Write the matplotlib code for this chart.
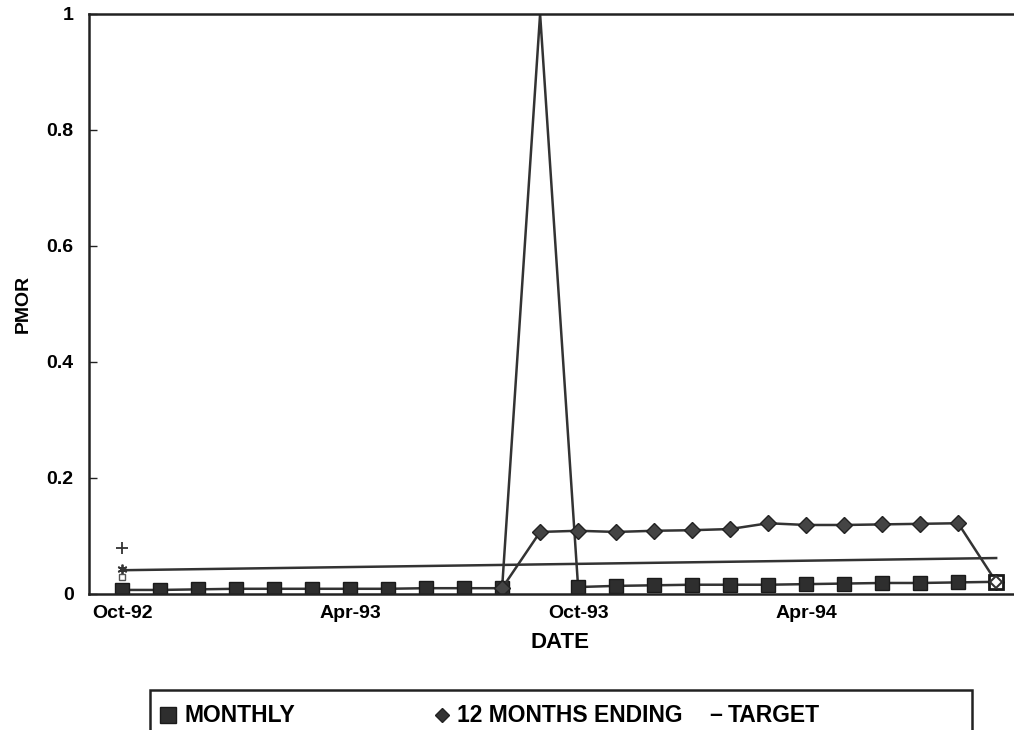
import matplotlib.pyplot as plt
from matplotlib.lines import Line2D
import numpy as np

plt.rcParams['font.family'] = ['Liberation Sans', 'DejaVu Sans']
plt.rcParams['font.weight'] = 'bold'

# values (Oct-92 .. Sep-94)
months = ['Oct-92', 'Nov-92', 'Dec-92', 'Jan-93', 'Feb-93', 'Mar-93',
          'Apr-93', 'May-93', 'Jun-93', 'Jul-93', 'Aug-93', 'Sep-93',
          'Oct-93', 'Nov-93', 'Dec-93', 'Jan-94', 'Feb-94', 'Mar-94',
          'Apr-94', 'May-94', 'Jun-94', 'Jul-94', 'Aug-94', 'Sep-94']
monthly = [0.007, 0.007, 0.008, 0.009, 0.009, 0.009, 0.009, 0.009, 0.010, 0.010,
           0.010, 1.0, 0.012, 0.014, 0.015, 0.016, 0.016, 0.016, 0.017, 0.018,
           0.019, 0.019, 0.020, 0.021]
twelve_months = [np.nan] * 10 + [0.010, 0.107, 0.109, 0.107, 0.109, 0.110, 0.112,
                                 0.122, 0.119, 0.119, 0.120, 0.121, 0.122, 0.021]
target_months = [0, 23]
target = [0.041, 0.062]
# stray single points at Oct-92
stray_plus = 0.079
stray_star = 0.043
stray_square = 0.029

x = np.arange(len(months))
ink = '#333333'

fig = plt.figure(figsize=(10.14, 7.30), dpi=100)
ax = fig.add_axes([89 / 1014, 136 / 730, 925 / 1014, 580 / 730])

ax.plot(target_months, target, color=ink, lw=1.8)
# the spike point itself shows no marker (clipped at the frame)
shown = [i for i in range(len(monthly)) if monthly[i] < 1]
ax.plot(x, monthly, color=ink, lw=1.8, marker='s', ms=10,
        mfc='#2e2e2e', mec='#1a1a1a', markevery=shown)
ax.plot(x, twelve_months, color=ink, lw=1.8, marker='D', ms=8,
        mfc='#444444', mec='#222222')
# last points drawn open
ax.plot(x[-1], monthly[-1], marker='s', ms=10, mfc='white', mec='#1a1a1a', mew=2)
ax.plot(x[-1], twelve_months[-1], marker='D', ms=6, mfc='white', mec='#333333', mew=1.5)
ax.plot(0, stray_plus, marker='+', ms=9, color=ink, mew=1.3)
ax.plot(0, stray_star, marker=(6, 2, 0), ms=7, color=ink, mew=1.3)
ax.plot(0, stray_square, marker='s', ms=5, mfc='none', mec='#555555')

ax.set_xlim(-0.87, 23.47)
ax.set_ylim(0, 1)
ax.set_yticks([0, 0.2, 0.4, 0.6, 0.8, 1])
ax.set_yticklabels(['0', '0.2', '0.4', '0.6', '0.8', '1'])
ax.set_xticks(x[::6])
ax.set_xticklabels(months[::6])
ax.tick_params(axis='y', direction='in', length=6, width=1, pad=11, labelsize=14, color='#222222')
ax.tick_params(axis='x', length=0, pad=8, labelsize=14)

for side in ['left', 'bottom', 'top']:
    ax.spines[side].set_linewidth(1.8)
    ax.spines[side].set_color('#222222')
ax.spines['right'].set_visible(False)

ax.set_ylabel('PMOR', fontsize=14, fontweight='bold', labelpad=11)
fig.text(560 / 1014, 1 - 643 / 730, 'DATE', fontsize=16, ha='center', va='center')

# legend box along the bottom edge
box = plt.Rectangle((150 / 1014, -0.02), 822 / 1014, (730 - 690) / 730 + 0.02,
                    transform=fig.transFigure, fill=False, lw=1.8, ec='#222222')
fig.patches.append(box)
ly = 1 - 715 / 730
fig.add_artist(Line2D([168 / 1014], [ly], transform=fig.transFigure, marker='s', ms=11,
                      mfc='#2e2e2e', mec='#1a1a1a', ls='none'))
fig.text(185 / 1014, ly, 'MONTHLY', fontsize=16.5, va='center')
fig.add_artist(Line2D([442 / 1014], [ly], transform=fig.transFigure, marker='D', ms=7,
                      mfc='#333333', mec='#222222', ls='none'))
fig.text(457 / 1014, ly, '12 MONTHS ENDING', fontsize=16.5, va='center')
fig.text(709 / 1014, ly, '\u2013', fontsize=16.5, va='center')
fig.text(728 / 1014, ly, 'TARGET', fontsize=16.5, va='center')

fig.savefig('out.png', dpi=100)
